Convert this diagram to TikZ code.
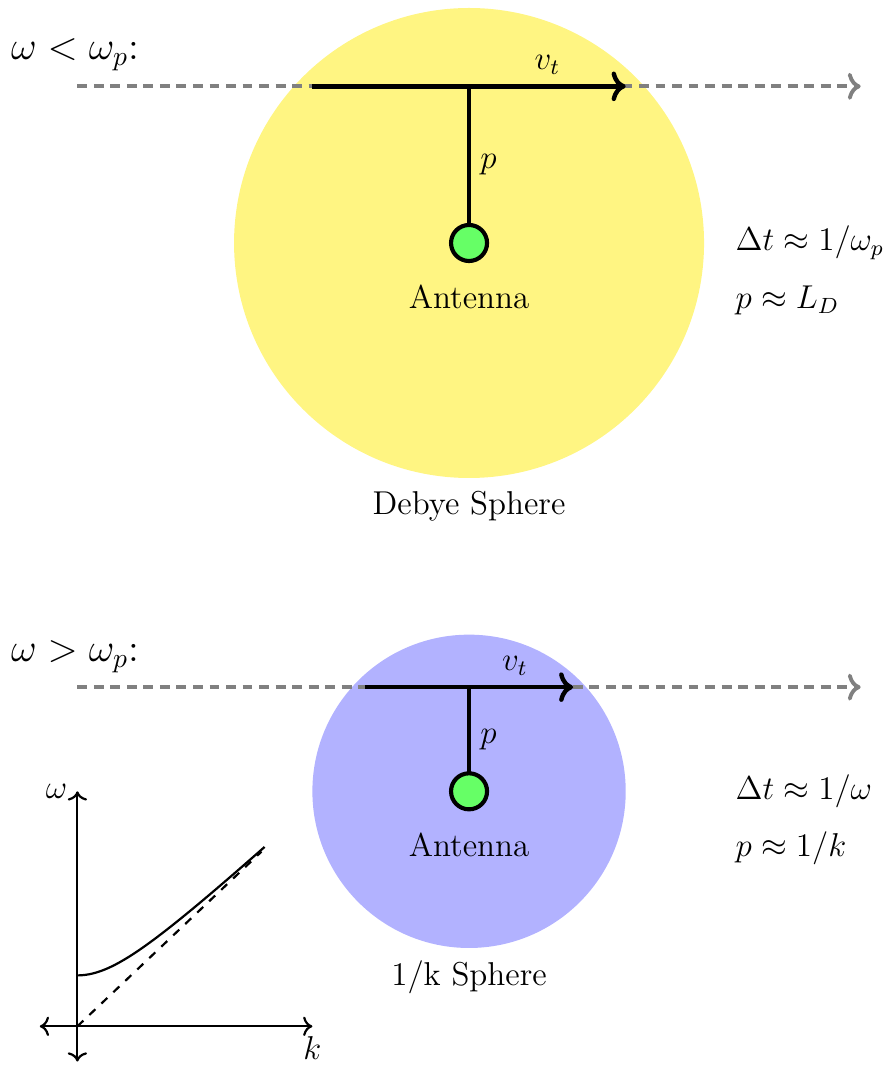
\documentclass[tikz,border=0pt]{standalone}
\usepackage{amsmath,amssymb}
\usepackage{xcolor}
\usepackage{tikz}
\usetikzlibrary{arrows.meta,calc,positioning}
\definecolor{debye}{RGB}{255,245,130}

\begin{document}
\begin{tikzpicture}[font=\large,
  track/.style={gray,line width=1.4pt,dash pattern=on 3.6pt off 2.4pt,->},
  vel/.style={line width=1.6pt,->},
  stem/.style={line width=1.6pt},
  ant/.style={circle,draw,line width=1.5pt,fill=green!60,minimum size=0.46cm,inner sep=0pt},
  regime/.style={font=\Large},
  ax/.style={thick,<->}]
  \useasboundingbox (-5.988,3.102) rectangle (5.375,-10.494);

  % omega < omega_p : Debye sphere
  \node[circle,fill=debye,minimum size=6cm,inner sep=0pt] (D) at (0,0) {};
  \node[below=1pt of D] {Debye Sphere};
  \coordinate (l1) at (-5,2);
  \coordinate (r1) at (5,2);
  \coordinate (s1) at (-2,2);
  \coordinate (e1) at (2,2);
  \coordinate (t1) at (0,2);
  \coordinate (c1) at (0,0);
  \draw[track] (l1) -- (r1);
  \draw[vel] (s1) -- node[above,pos=0.75] {$v_t$} (e1);
  \draw[stem] (t1) -- node[right] {$p$} (c1);
  \node[ant] (A1) at (c1) {};
  \node[below=0.15cm of A1] {Antenna};
  \node[regime] (W1) at (-5.03,2.4) {$\omega < \omega_p$:};
  \node[anchor=west] (dt1) at (3.28,0) {$\Delta t \approx 1/\omega_p$};
  \node[anchor=west] (p1) at (3.28,-0.73) {$p \approx L_D$};

  % omega > omega_p : 1/k sphere
  \node[circle,fill=blue!30,minimum size=4cm,inner sep=0pt] (K) at (0,-7) {};
  \node[below=1pt of K] {1/k Sphere};
  \coordinate (l2) at (-5,-5.67);
  \coordinate (r2) at (5,-5.67);
  \coordinate (s2) at (-1.33,-5.67);
  \coordinate (e2) at (1.33,-5.67);
  \coordinate (t2) at (0,-5.67);
  \coordinate (c2) at (0,-7);
  \draw[track] (l2) -- (r2);
  \draw[vel] (s2) -- node[above,pos=0.72] {$v_t$} (e2);
  \draw[stem] (t2) -- node[right] {$p$} (c2);
  \node[ant] (A2) at (c2) {};
  \node[below=0.15cm of A2] {Antenna};
  \node[regime] (W2) at (-5.03,-5.28) {$\omega > \omega_p$:};
  \node[anchor=west] (dt2) at (3.28,-7) {$\Delta t \approx 1/\omega$};
  \node[anchor=west] (p2) at (3.28,-7.73) {$p \approx 1/k$};

  % dispersion relation
  \coordinate (o) at (-5,-10);
  \draw[ax] (-5.48,-10) -- (-2,-10) node[below] {$k$};
  \draw[ax] (-5,-10.45) -- (-5,-7) node[left] {$\omega$};
  \draw[thick,dashed] (o) -- ++(2.35,2.23);
  \draw[thick,shift={(o)}] plot[domain=0:2.39,samples=50,smooth] (\x,{sqrt(0.4225+0.844*\x*\x)});
\end{tikzpicture}
\end{document}
